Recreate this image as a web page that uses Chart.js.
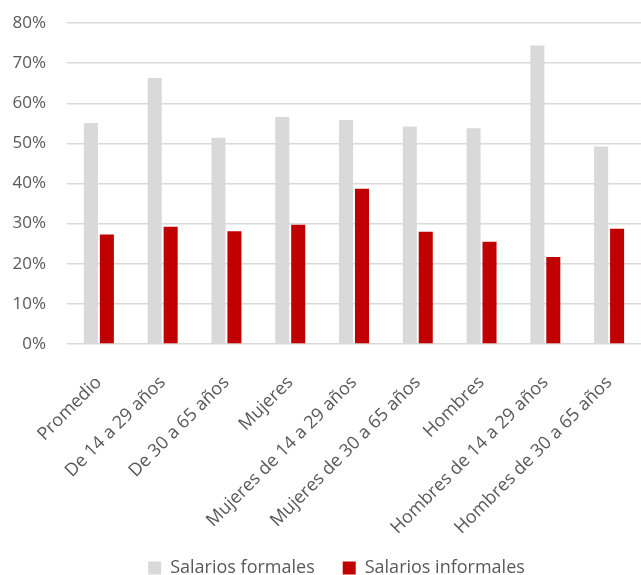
<!DOCTYPE html>
<html>
<head>
<meta charset="utf-8">
<script src="https://cdn.jsdelivr.net/npm/chart.js@4"></script>
<style>
  html, body { margin: 0; padding: 0; background: #fff; }
  #wrap { width: 641px; height: 575px; }
</style>
</head>
<body>
<div id="wrap"><canvas id="chart" width="641" height="575"></canvas></div>
<script>
//______________________________________________________
var Categories = [
    'Promedio', 'De 14 a 29 años', 'De 30 a 65 años', 'Mujeres',
    'Mujeres de 14 a 29 años', 'Mujeres de 30 a 65 años', 'Hombres',
    'Hombres de 14 a 29 años', 'Hombres de 30 a 65 años'
];
var Formales   = [55.1, 66.3, 51.4, 56.6, 55.8, 54.2, 53.8, 74.4, 49.2];
var Informales = [27.3, 29.2, 28.1, 29.7, 38.7, 28.0, 25.5, 21.7, 28.7];
var SeriesNames = ['Salarios formales', 'Salarios informales'];
var YTicks = [0, 10, 20, 30, 40, 50, 60, 70, 80];

const FontName  = "'Open Sans', 'Liberation Sans', sans-serif";
const TextColor = '#595959';
const GridColor = '#d9d9d9';
const LegendShiftY = 12;  // push legend row closer to the bottom edge
const LegendShiftX = 16;  // legend is centred on the plot, not the canvas
const XAxisHeight  = 175; // category labels may spill into the legend band

//______________________________________________________
var layoutTweaks = {
    id: 'layoutTweaks',
    afterLayout: function (chart) {
        var lg = chart.legend;
        lg.top += LegendShiftY;  lg.bottom += LegendShiftY;
        lg.left += LegendShiftX; lg.right += LegendShiftX;
    },
    beforeDraw: function (chart) { // let long rotated labels overflow the x axis box
        chart.scales.x._computeLabelArea = function () { return null; };
    }
};
//______________________________________________________
function initChart () {
    Chart.defaults.font.family = FontName;
    Chart.defaults.color = TextColor;
    new Chart('chart', {
        type: 'bar',
        data: {
            labels: Categories,
            datasets: [
                { label: SeriesNames[0], data: Formales,   backgroundColor: '#d9d9d9' },
                { label: SeriesNames[1], data: Informales, backgroundColor: '#c00000' }
            ]
        },
        plugins: [layoutTweaks],
        options: {
            responsive: false,
            animation: false,
            categoryPercentage: 0.5,
            barPercentage: 0.88,
            layout: { padding: 0 },
            plugins: {
                legend: {
                    position: 'bottom',
                    labels: { boxWidth: 13, boxHeight: 13, padding: 28, font: { size: 18 }, color: TextColor }
                },
                tooltip: { enabled: false }
            },
            scales: {
                x: {
                    grid: { display: false },
                    border: { display: false },
                    ticks: { minRotation: 45, maxRotation: 45, font: { size: 18 }, color: TextColor, padding: 20 },
                    afterFit: function (scale) { scale.height = XAxisHeight; scale.paddingRight = 0; }
                },
                y: {
                    min: 0, max: 80,
                    afterBuildTicks: function (axis) { axis.ticks = YTicks.map(function (v) { return { value: v }; }); },
                    afterFit: function (scale) { scale.paddingTop = 23; scale.width = 67; },
                    grid: { color: GridColor, lineWidth: 1.5, drawTicks: false },
                    border: { display: false },
                    ticks: { font: { size: 17, lineHeight: 1 }, color: TextColor, padding: 21,
                             callback: function (v) { return v + '%'; } }
                }
            }
        }
    });
}
initChart();
//______________________________________________________
</script>
</body>
</html>
